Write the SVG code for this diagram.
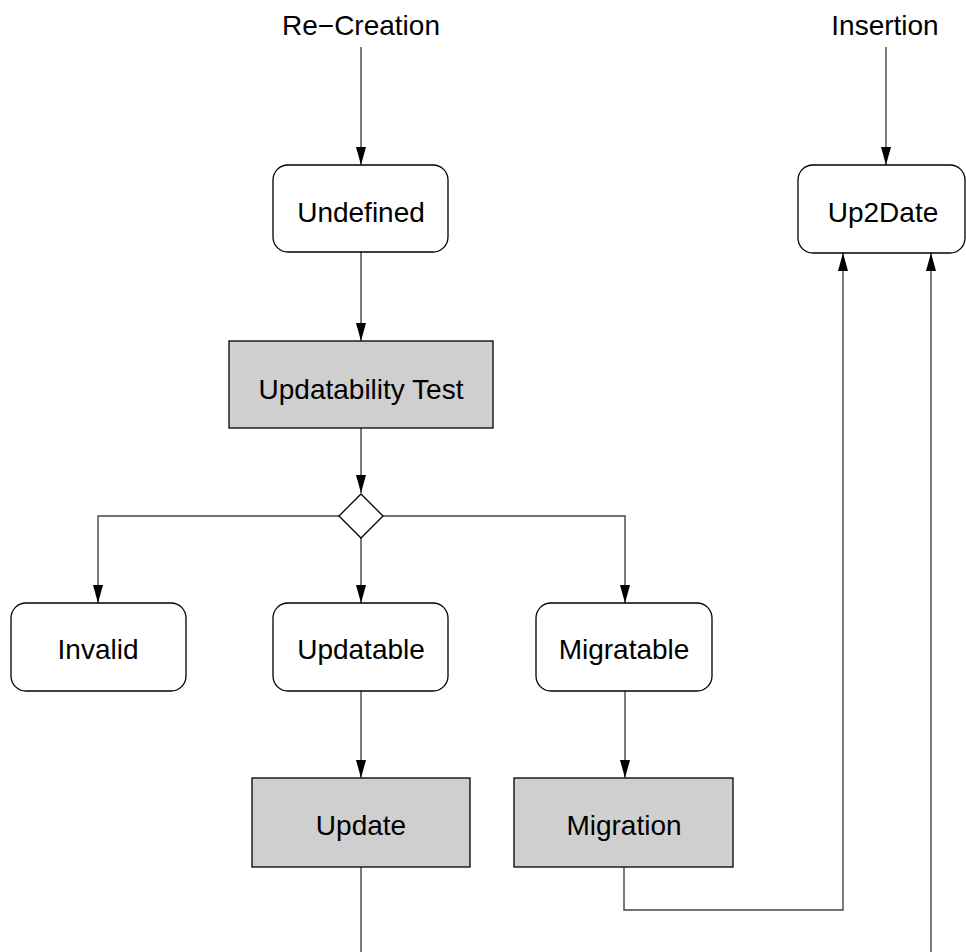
<svg xmlns="http://www.w3.org/2000/svg" width="966" height="952" viewBox="0 0 966 952">
<style>
.state{fill:#fff;stroke:#000;stroke-width:1.3}
.act{fill:#cfcfcf;stroke:#000;stroke-width:1.3}
.lbl{font-family:"Liberation Sans",Arial,sans-serif;font-size:28px;fill:#000;text-anchor:middle}
.con{fill:none;stroke:#444;stroke-width:1.4}
</style>
<defs>
<marker id="ah" viewBox="0 0 18 10" refX="18" refY="5" markerWidth="18" markerHeight="10" markerUnits="userSpaceOnUse" orient="auto-start-reverse">
<path d="M0,0 L18,5 L0,10 Z" fill="#000"/>
</marker>
</defs>
<rect width="966" height="952" fill="#fff"/>
<g id="connectors">
<path class="con" d="M361,47 V165" marker-end="url(#ah)"/>
<path class="con" d="M361,252 V341" marker-end="url(#ah)"/>
<path class="con" d="M361,428 V493" marker-end="url(#ah)"/>
<path class="con" d="M339,516 H98 V603" marker-end="url(#ah)"/>
<path class="con" d="M361,538 V603" marker-end="url(#ah)"/>
<path class="con" d="M383,516 H625 V603" marker-end="url(#ah)"/>
<path class="con" d="M361,691 V778" marker-end="url(#ah)"/>
<path class="con" d="M625,691 V778" marker-end="url(#ah)"/>
<path class="con" d="M361,867 V952"/>
<path class="con" d="M624,867 V910 H843 V253" marker-end="url(#ah)"/>
<path class="con" d="M931,952 V253" marker-end="url(#ah)"/>
<path class="con" d="M886,47 V165" marker-end="url(#ah)"/>
</g>
<g id="recreation"><text class="lbl" x="361" y="35">Re−Creation</text></g>
<g id="insertion"><text class="lbl" x="885" y="35">Insertion</text></g>
<g id="undefined"><rect class="state" x="273" y="165" width="175" height="87" rx="15"/><text class="lbl" x="361" y="222">Undefined</text></g>
<g id="up2date"><rect class="state" x="798" y="165" width="167" height="88" rx="15"/><text class="lbl" x="883" y="222">Up2Date</text></g>
<g id="updatability-test"><rect class="act" x="229" y="341" width="264" height="87"/><text class="lbl" x="361" y="399">Updatability Test</text></g>
<g id="decision"><path d="M361,494 L383,516 L361,538 L339,516 Z" fill="#fff" stroke="#000" stroke-width="1.3"/></g>
<g id="invalid"><rect class="state" x="11" y="603" width="175" height="88" rx="15"/><text class="lbl" x="98" y="659">Invalid</text></g>
<g id="updatable"><rect class="state" x="273" y="603" width="175" height="88" rx="15"/><text class="lbl" x="361" y="659">Updatable</text></g>
<g id="migratable"><rect class="state" x="536" y="603" width="176" height="88" rx="15"/><text class="lbl" x="624" y="659">Migratable</text></g>
<g id="update"><rect class="act" x="252" y="778" width="218" height="89"/><text class="lbl" x="361" y="835">Update</text></g>
<g id="migration"><rect class="act" x="514" y="778" width="219" height="89"/><text class="lbl" x="624" y="835">Migration</text></g>
</svg>
